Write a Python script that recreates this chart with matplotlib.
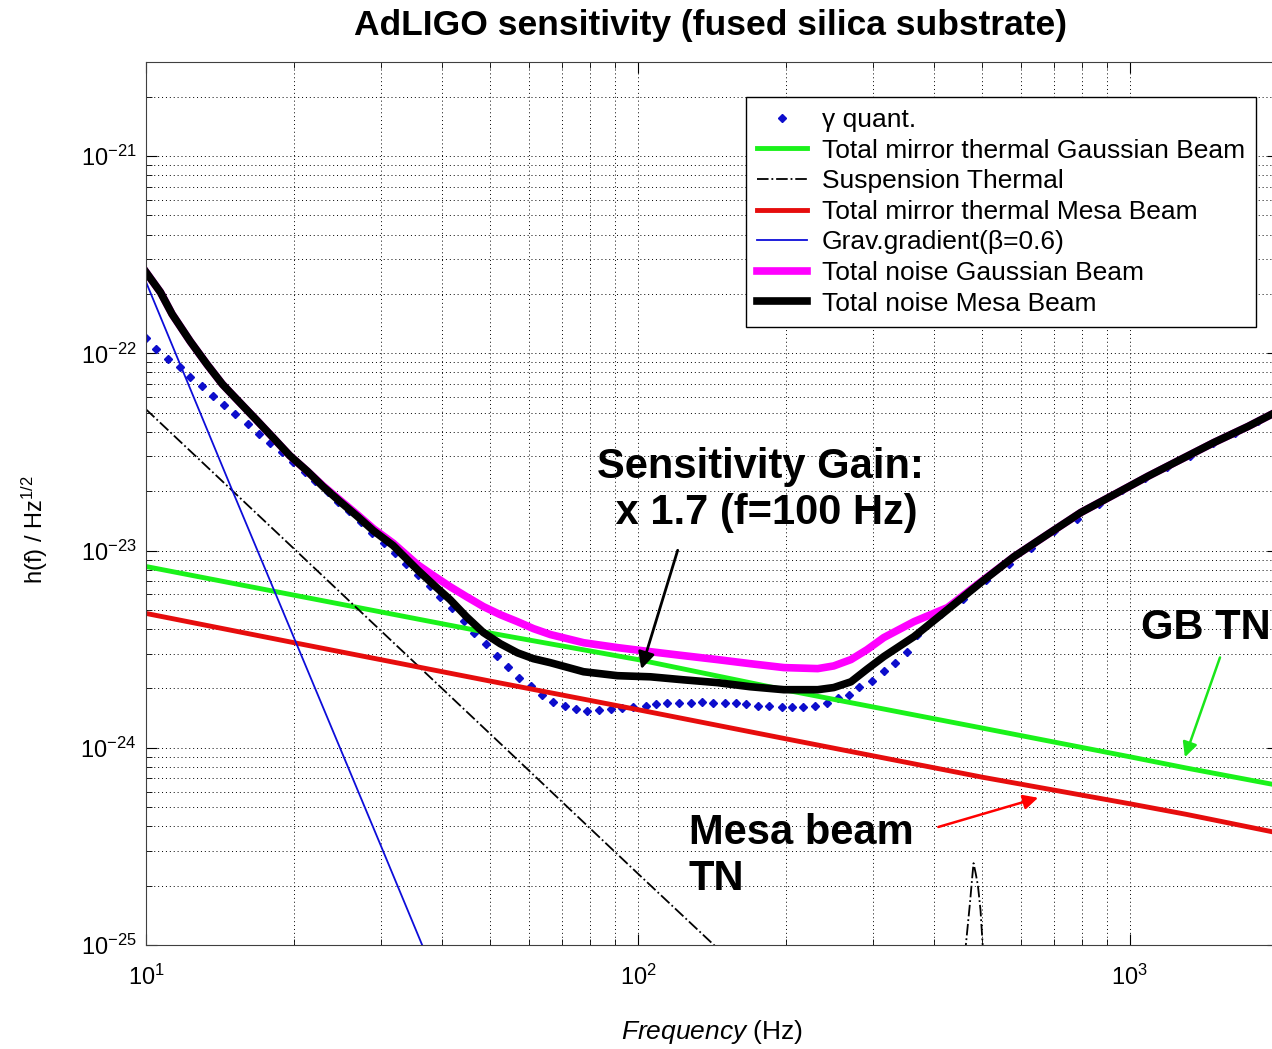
import matplotlib
matplotlib.use('Agg')
import matplotlib.pyplot as plt
from matplotlib.ticker import NullFormatter

plt.rcParams['font.family'] = ['Liberation Sans', 'DejaVu Sans']
plt.rcParams['mathtext.fontset'] = 'custom'
plt.rcParams['mathtext.rm'] = 'Liberation Sans'
plt.rcParams['mathtext.it'] = 'Liberation Sans:italic'
plt.rcParams['mathtext.bf'] = 'Liberation Sans:bold'
plt.rcParams['axes.unicode_minus'] = False

# Квантовый шум (точки)
f_quant = [10.0, 10.5, 11.1, 11.7, 12.3, 13.0, 13.7, 14.4, 15.2, 16.1, 17.0, 17.9, 18.9, 19.9,
           21.0, 22.1, 23.4, 24.6, 25.9, 27.4, 28.8, 30.4, 32.1, 33.8, 35.8, 37.7, 39.6, 41.9,
           44.2, 46.5, 49.2, 51.8, 54.5, 57.4, 60.7, 63.9, 67.3, 71.2, 75.0, 78.9, 83.5, 88.3,
           93.0, 97.9, 103.6, 109, 114.8, 120.9, 128, 135, 142, 150, 158, 166, 175, 185, 196,
           206, 217, 229, 242, 255, 268, 282, 299, 316, 333, 352, 370, 413, 458, 509, 567, 629,
           700, 780, 865, 963, 1073, 1189, 1325, 1476, 1636, 1821, 1954]
h_quant = [1.19e-22, 1.05e-22, 9.4e-23, 8.5e-23, 7.6e-23, 6.8e-23, 6.05e-23, 5.5e-23, 4.95e-23,
           4.4e-23, 3.9e-23, 3.5e-23, 3.15e-23, 2.8e-23, 2.5e-23, 2.24e-23, 1.99e-23, 1.77e-23,
           1.58e-23, 1.40e-23, 1.23e-23, 1.09e-23, 9.7e-24, 8.5e-24, 7.55e-24, 6.6e-24, 5.8e-24,
           5.1e-24, 4.4e-24, 3.84e-24, 3.37e-24, 2.93e-24, 2.58e-24, 2.27e-24, 2.06e-24, 1.86e-24,
           1.71e-24, 1.63e-24, 1.58e-24, 1.54e-24, 1.56e-24, 1.58e-24, 1.60e-24, 1.61e-24,
           1.63e-24, 1.67e-24, 1.69e-24, 1.69e-24, 1.69e-24, 1.71e-24, 1.69e-24, 1.69e-24,
           1.69e-24, 1.67e-24, 1.63e-24, 1.63e-24, 1.61e-24, 1.61e-24, 1.61e-24, 1.63e-24,
           1.69e-24, 1.79e-24, 1.86e-24, 2.04e-24, 2.19e-24, 2.46e-24, 2.70e-24, 3.07e-24,
           3.75e-24, 4.79e-24, 5.70e-24, 7.13e-24, 8.5e-24, 1.035e-23, 1.25e-23, 1.45e-23,
           1.73e-23, 2.02e-23, 2.32e-23, 2.64e-23, 3.00e-23, 3.49e-23, 3.93e-23, 4.52e-23, 4.96e-23]

# Тепловой шум зеркал (гауссов и меза пучок)
f_mirror = [10, 20, 50, 100, 200, 500, 1000, 1300, 2000]
h_gauss_tn = [8.3e-24, 5.94e-24, 3.82e-24, 2.8e-24, 1.96e-24, 1.26e-24, 9.0e-25, 7.9e-25, 6.45e-25]
h_mesa_tn = [4.8e-24, 3.41e-24, 2.18e-24, 1.56e-24, 1.11e-24, 7.1e-25, 5.2e-25, 4.6e-25, 3.7e-25]

# Тепловой шум подвеса (с резонансом около 480 Гц)
f_susp = [10, 20, 50, 100, 150, 200, 300, 400, 455, 464, 473, 478, 481, 486, 491, 497, 502, 515, 600, 1000, 2000]
h_susp = [5.2e-23, 1.02e-23, 1.18e-24, 2.3e-25, 8.9e-26, 4.5e-26, 2.0e-26, 1.2e-26, 3.0e-26, 1.0e-25,
          1.63e-25, 2.2e-25, 2.6e-25, 2.3e-25, 2.0e-25, 1.5e-25, 1.0e-25, 3.0e-26, 8.0e-27, 3.0e-27, 1.0e-27]

# Гравитационный градиент
f_grav = [10, 15, 20, 30, 40]
h_grav = [2.3e-22, 2.0e-23, 3.6e-24, 3.2e-25, 5.7e-26]

# Полный шум
f_total = [10.0, 10.7, 11.3, 12.3, 13.3, 14.3, 15.5, 16.8, 18.1, 19.6,
           21.3, 22.9, 24.8, 26.9, 29.0, 31.8, 35.6, 38.4, 41.5, 44.8,
           48.5, 52.5, 56.9, 61.3, 66.4, 77.5, 90.9, 106, 124, 145,
           169, 198, 232, 250, 271, 292, 316, 364, 426, 498,
           581, 681, 795, 928, 1088, 1270, 1482, 1739, 2000]
h_total_mesa = [2.58e-22, 2.04e-22, 1.58e-22, 1.15e-22, 8.8e-23, 6.97e-23, 5.64e-23, 4.57e-23, 3.75e-23, 3.03e-23,
                2.52e-23, 2.11e-23, 1.77e-23, 1.49e-23, 1.26e-23, 1.06e-23, 8.0e-24, 6.71e-24, 5.64e-24, 4.62e-24,
                3.84e-24, 3.37e-24, 3.03e-24, 2.83e-24, 2.70e-24, 2.43e-24, 2.32e-24, 2.29e-24, 2.21e-24, 2.14e-24,
                2.04e-24, 1.97e-24, 1.97e-24, 2.02e-24, 2.16e-24, 2.5e-24, 2.90e-24, 3.66e-24, 5.02e-24, 6.89e-24,
                9.3e-24, 1.21e-23, 1.56e-23, 1.92e-23, 2.38e-23, 2.90e-23, 3.53e-23, 4.26e-23, 5.1e-23]
h_total_gauss = [2.58e-22, 2.04e-22, 1.58e-22, 1.15e-22, 8.8e-23, 6.97e-23, 5.64e-23, 4.57e-23, 3.75e-23, 3.03e-23,
                 2.52e-23, 2.13e-23, 1.80e-23, 1.52e-23, 1.29e-23, 1.09e-23, 8.5e-24, 7.46e-24, 6.56e-24, 5.84e-24,
                 5.2e-24, 4.73e-24, 4.36e-24, 4.02e-24, 3.75e-24, 3.41e-24, 3.22e-24, 3.07e-24, 2.93e-24, 2.80e-24,
                 2.67e-24, 2.55e-24, 2.52e-24, 2.6e-24, 2.80e-24, 3.14e-24, 3.62e-24, 4.36e-24, 5.14e-24, 6.95e-24,
                 9.3e-24, 1.21e-23, 1.56e-23, 1.92e-23, 2.38e-23, 2.90e-23, 3.53e-23, 4.26e-23, 5.1e-23]

fig = plt.figure(figsize=(12.72, 10.49), dpi=100)
ax = fig.add_axes([146 / 1272, 1 - 945 / 1049, 1132 / 1272, 883 / 1049])

ax.plot(f_quant, h_quant, linestyle='none', marker='D', markersize=3.6,
        color=(0.05, 0.05, 0.8), label='γ quant.')
ax.plot(f_mirror, h_gauss_tn, color=(0.1, 0.95, 0.1), lw=3.5, label='Total mirror thermal Gaussian Beam')
ax.plot(f_susp, h_susp, color='k', lw=1.3, linestyle='-.', label='Suspension Thermal')
ax.plot(f_mirror, h_mesa_tn, color=(0.9, 0.05, 0.05), lw=3.5, label='Total mirror thermal Mesa Beam')
ax.plot(f_grav, h_grav, color=(0.05, 0.05, 0.85), lw=1.3, label='Grav.gradient(β=0.6)')
ax.plot(f_total, h_total_gauss, color=(1, 0, 1), lw=5.5, solid_joinstyle='round',
        label='Total noise Gaussian Beam')
ax.plot(f_total, h_total_mesa, color='k', lw=5.5, solid_joinstyle='round',
        label='Total noise Mesa Beam')

ax.set_xscale('log')
ax.set_yscale('log')
ax.set_xlim(10, 2000)
ax.set_ylim(1e-25, 3e-21)
ax.xaxis.set_minor_formatter(NullFormatter())
ax.yaxis.set_minor_formatter(NullFormatter())

ax.grid(True, which='both', linestyle=(0, (1, 3)), color='k', linewidth=0.7)
ax.tick_params(which='both', direction='in', top=True, right=True, labelsize=17, pad=7)
ax.tick_params(axis='x', which='major', pad=14)
ax.tick_params(which='major', length=8)
ax.tick_params(which='minor', length=4)
for sp in ax.spines.values():
    sp.set_color('0.25')

ax.set_xlabel('$\\it{Frequency}$ (Hz)', fontsize=19)
ax.xaxis.set_label_coords(0.5, -0.083)
ax.set_ylabel('h(f) / Hz$^{1/2}$', fontsize=17)
ax.yaxis.set_label_coords(-0.085, 0.47)

fig.text(711 / 1272, 1 - 25 / 1049, 'AdLIGO sensitivity (fused silica substrate)',
         fontsize=25.5, fontweight='bold', ha='center', va='center')

leg = ax.legend(loc='upper right', bbox_to_anchor=(0.9806, 0.9604), borderaxespad=0,
                fontsize=19, fancybox=False, framealpha=1, edgecolor='k',
                handlelength=1.9, handletextpad=0.57, labelspacing=0.25, borderpad=0.42)
leg.get_frame().set_linewidth(1.0)

# Подписи
ax.text(177.5, 2.02e-23, 'Sensitivity Gain:\n x 1.7 (f=100 Hz)', fontsize=30,
        fontweight='bold', ha='center', va='center', linespacing=1.2)
ax.annotate('', xy=(101.2, 2.43e-24), xytext=(120.9, 1.035e-23),
            arrowprops=dict(arrowstyle='-|>', color='k', lw=2, mutation_scale=25))
ax.text(1053, 4.06e-24, 'GB TN', fontsize=30, fontweight='bold', ha='left', va='center')
ax.annotate('', xy=(1288, 8.69e-25), xytext=(1531, 2.96e-24),
            arrowprops=dict(arrowstyle='-|>', color=(0.1, 0.9, 0.1), lw=1.8, mutation_scale=22))
ax.text(126.7, 2.83e-25, 'Mesa beam\nTN', fontsize=30, fontweight='bold', ha='left', va='center',
        linespacing=1.2)
ax.annotate('', xy=(659, 5.63e-25), xytext=(402.9, 3.93e-25),
            arrowprops=dict(arrowstyle='-|>', color='red', lw=1.8, mutation_scale=22))

fig.savefig('out.png', dpi=100)
